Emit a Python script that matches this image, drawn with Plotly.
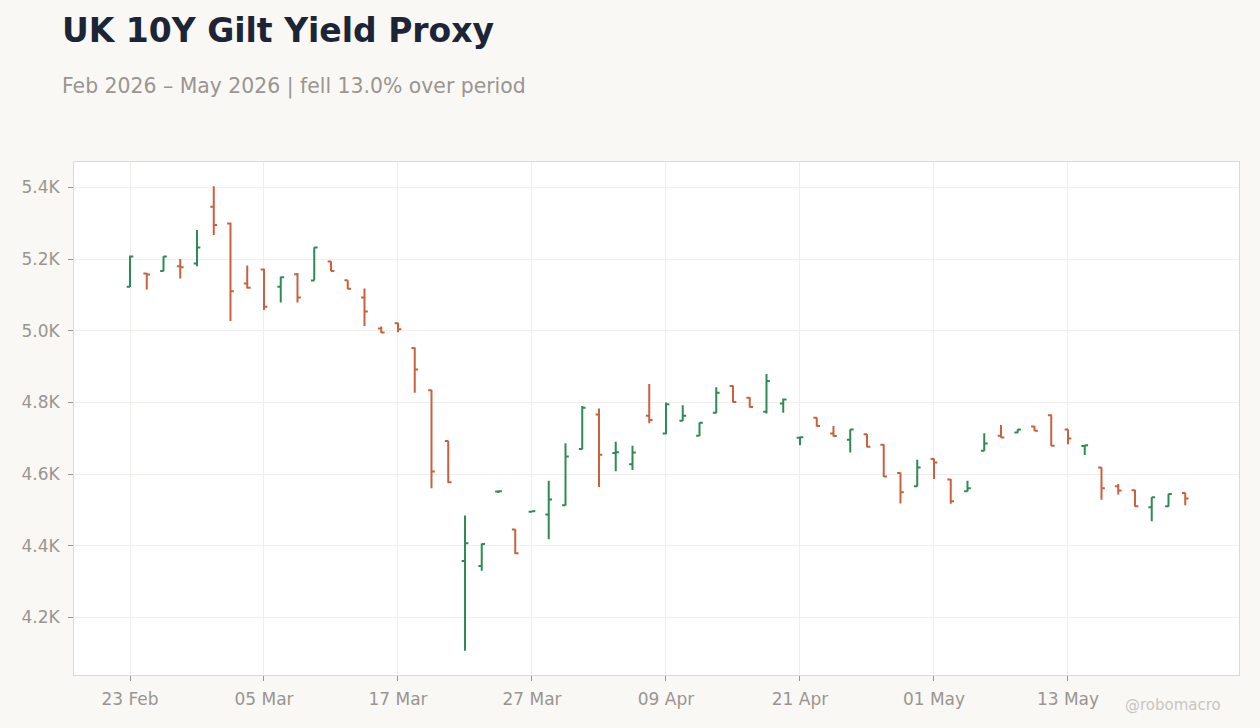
import pandas as pd
import plotly.graph_objects as go

# ---- data ----
holidays = ["2026-04-03"]
dates = [d for d in pd.bdate_range("2026-02-23", "2026-05-22") if d.strftime("%Y-%m-%d") not in holidays]

opens = [5123, 5160, 5167, 5180, 5188, 5346, 5299, 5132, 5171, 5123,
         5158, 5140, 5193, 5141, 5093, 5006, 5021, 4952, 4834, 4692,
         4357, 4343, 4551, 4445, 4495, 4487, 4513, 4670, 4766, 4659,
         4627, 4763, 4713, 4749, 4707, 4771, 4846, 4813, 4774, 4797,
         4701, 4757, 4713, 4696, 4711, 4682, 4603, 4566, 4642, 4585,
         4552, 4665, 4707, 4716, 4733, 4764, 4724, 4678, 4618, 4566,
         4555, 4507, 4510, 4547]
highs = [5210, 5161, 5208, 5200, 5281, 5403, 5302, 5182, 5173, 5151,
         5161, 5233, 5194, 5141, 5118, 5012, 5022, 4953, 4835, 4693,
         4484, 4406, 4553, 4446, 4497, 4581, 4686, 4790, 4783, 4690,
         4679, 4851, 4800, 4792, 4744, 4842, 4847, 4814, 4879, 4811,
         4705, 4758, 4734, 4725, 4712, 4683, 4604, 4640, 4643, 4586,
         4581, 4714, 4737, 4725, 4734, 4766, 4725, 4681, 4619, 4572,
         4556, 4535, 4545, 4548]
lows = [5122, 5115, 5166, 5146, 5180, 5267, 5027, 5118, 5058, 5079,
        5079, 5140, 5166, 5116, 5013, 4994, 4996, 4827, 4560, 4575,
        4107, 4330, 4547, 4377, 4494, 4418, 4512, 4669, 4564, 4608,
        4611, 4742, 4711, 4748, 4706, 4770, 4800, 4786, 4769, 4771,
        4680, 4733, 4705, 4660, 4675, 4592, 4518, 4565, 4586, 4517,
        4551, 4664, 4701, 4715, 4720, 4678, 4683, 4653, 4528, 4543,
        4509, 4468, 4509, 4513]
closes = [5207, 5157, 5207, 5177, 5232, 5295, 5110, 5120, 5067, 5149,
          5093, 5232, 5167, 5117, 5054, 4995, 5004, 4892, 4607, 4577,
          4407, 4405, 4552, 4379, 4496, 4529, 4649, 4785, 4654, 4661,
          4660, 4751, 4795, 4763, 4743, 4827, 4801, 4787, 4860, 4808,
          4703, 4734, 4706, 4724, 4676, 4593, 4549, 4618, 4632, 4524,
          4560, 4685, 4702, 4724, 4721, 4679, 4699, 4680, 4560, 4554,
          4510, 4535, 4544, 4532]

x_tick_dates = ["2026-02-23", "2026-03-05", "2026-03-17", "2026-03-27",
                "2026-04-09", "2026-04-21", "2026-05-01", "2026-05-13"]
x_tick_labels = ["23 Feb", "05 Mar", "17 Mar", "27 Mar", "09 Apr", "21 Apr", "01 May", "13 May"]
y_tick_vals = [4200, 4400, 4600, 4800, 5000, 5200, 5400]
y_tick_labels = ["4.2K", "4.4K", "4.6K", "4.8K", "5.0K", "5.2K", "5.4K"]

title = "UK 10Y Gilt Yield Proxy"
subtitle = "Feb 2026 – May 2026 | fell 13.0% over period"

GREEN = "#2E8B57"
RED = "#C8623E"
FONT = "DejaVu Sans"
GRAY = "#9A9590"

fig = go.Figure(go.Ohlc(
    x=dates, open=opens, high=highs, low=lows, close=closes,
    increasing=dict(line=dict(color=GREEN, width=2)),
    decreasing=dict(line=dict(color=RED, width=2)),
    tickwidth=0.2,
    hoverinfo="skip",
))

fig.update_layout(
    width=1260, height=728,
    paper_bgcolor="#F9F8F5",
    plot_bgcolor="#FFFFFF",
    margin=dict(l=74, r=21, t=162, b=53),
    showlegend=False,
    font=dict(family=FONT, color=GRAY, size=17),
    annotations=[
        dict(text="<b>" + title + "</b>", xref="paper", yref="paper",
             x=(60 - 74) / 1165, y=(675 - 30) / 513, xanchor="left", yanchor="middle",
             showarrow=False, font=dict(family=FONT, size=33, color="#1C2536")),
        dict(text=subtitle, xref="paper", yref="paper",
             x=(60 - 74) / 1165, y=(675 - 86) / 513, xanchor="left", yanchor="middle",
             showarrow=False, font=dict(family=FONT, size=20.4, color=GRAY)),
        dict(text="@robomacro", xref="paper", yref="paper",
             x=(1223 - 74) / 1165, y=(675 - 705) / 513, xanchor="right", yanchor="middle",
             showarrow=False, font=dict(family=FONT, size=15, color="#C9C6C1")),
    ],
)

axis_common = dict(
    ticks="outside", ticklen=5, tickcolor=GRAY,
    showgrid=True, gridcolor="#F0EFEC", gridwidth=1,
    showline=True, linecolor="#DDD8D0", linewidth=1, mirror=True,
    zeroline=False,
    tickfont=dict(family=FONT, size=17, color=GRAY),
)

fig.update_xaxes(
    type="date",
    rangebreaks=[dict(bounds=["sat", "mon"]), dict(values=holidays)],
    range=["2026-02-17 15:46", "2026-05-27 05:02"],
    rangeslider=dict(visible=False),
    tickvals=x_tick_dates, ticktext=x_tick_labels,
    ticklabelstandoff=4,
    **axis_common,
)
fig.update_yaxes(
    range=[4039, 5471],
    tickvals=y_tick_vals, ticktext=y_tick_labels,
    ticklabelstandoff=5,
    **axis_common,
)

fig.write_html(
    "out.html",
    config={"displayModeBar": False},
    post_script="document.body.style.margin='0';document.body.style.overflow='hidden';",
)
